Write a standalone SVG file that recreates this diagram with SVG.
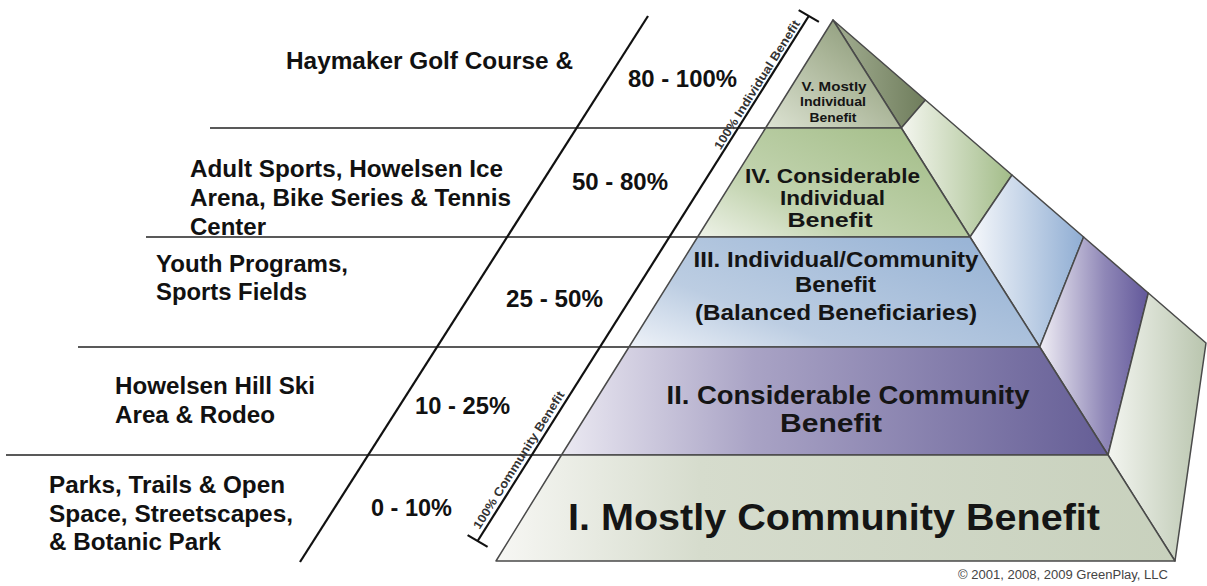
<svg xmlns="http://www.w3.org/2000/svg" width="1207" height="586" viewBox="0 0 1207 586">
<defs>
<style>
.lbl{font-family:"Liberation Sans",Arial,sans-serif;font-weight:bold;font-size:23px;fill:#111;}
.pct{font-family:"Liberation Sans",Arial,sans-serif;font-weight:bold;font-size:23px;fill:#111;}
.tier{font-family:"Liberation Sans",Arial,sans-serif;font-weight:bold;fill:#151515;text-anchor:middle;}
.brk{font-family:"Liberation Sans",Arial,sans-serif;font-weight:bold;font-size:12px;fill:#333;}
.hl{stroke:#222;stroke-width:1.6;fill:none;}
.dl{stroke:#111;stroke-width:2.2;fill:none;}
.face{stroke:#4a4a4a;stroke-width:1.5;stroke-linejoin:round;}
.copy{font-family:"Liberation Sans",Arial,sans-serif;font-size:12px;fill:#444;}
</style>
<linearGradient id="g5" x1="0" y1="1" x2="1" y2="0"><stop offset="0" stop-color="#dde3d3"/><stop offset="0.55" stop-color="#aab598"/><stop offset="1" stop-color="#7f8e6c"/></linearGradient>
<linearGradient id="g4" x1="0" y1="1" x2="1" y2="0.2"><stop offset="0" stop-color="#eef2e8"/><stop offset="0.35" stop-color="#c3d4b0"/><stop offset="1" stop-color="#a3bd88"/></linearGradient>
<linearGradient id="g3" x1="0" y1="1" x2="1" y2="0.3"><stop offset="0" stop-color="#eef2f8"/><stop offset="0.35" stop-color="#bccde2"/><stop offset="1" stop-color="#9ab5d6"/></linearGradient>
<linearGradient id="g2" x1="0" y1="0.5" x2="1" y2="0.5"><stop offset="0" stop-color="#ebe9f2"/><stop offset="0.35" stop-color="#a9a3c5"/><stop offset="1" stop-color="#655e96"/></linearGradient>
<linearGradient id="g1" x1="0" y1="0.5" x2="1" y2="0.5"><stop offset="0" stop-color="#f7f7f4"/><stop offset="0.3" stop-color="#d6dccd"/><stop offset="1" stop-color="#c8d1bd"/></linearGradient>
<linearGradient id="s5" x1="0" y1="0" x2="1" y2="0"><stop offset="0" stop-color="#a3ae92"/><stop offset="1" stop-color="#6f7d5c"/></linearGradient>
<linearGradient id="s4" x1="0" y1="0" x2="1" y2="0"><stop offset="0" stop-color="#f4f6ef"/><stop offset="1" stop-color="#a2bc88"/></linearGradient>
<linearGradient id="s3" x1="0" y1="0" x2="1" y2="0"><stop offset="0" stop-color="#f6f8fb"/><stop offset="1" stop-color="#8fadd3"/></linearGradient>
<linearGradient id="s2" x1="0" y1="0" x2="1" y2="0"><stop offset="0" stop-color="#f0eef5"/><stop offset="0.6" stop-color="#8f87b7"/><stop offset="1" stop-color="#62589a"/></linearGradient>
<linearGradient id="s1" x1="0" y1="0" x2="1" y2="0"><stop offset="0" stop-color="#f3f5f0"/><stop offset="1" stop-color="#b9c5ae"/></linearGradient>
</defs>
<rect width="1207" height="586" fill="#ffffff"/>
<g id="connectors">
<line class="hl" x1="210" y1="128" x2="901" y2="128"/>
<line class="hl" x1="146" y1="237" x2="970" y2="237"/>
<line class="hl" x1="78" y1="347" x2="1040" y2="347"/>
<line class="hl" x1="6" y1="455" x2="1108" y2="455"/>
<line class="dl" x1="648" y1="16" x2="300" y2="562"/>
<line class="dl" x1="808.8" y1="16" x2="477.6" y2="541"/>
<line class="dl" x1="798.7" y1="10.1" x2="818.9" y2="21.9"/>
<line class="dl" x1="467.6" y1="535.1" x2="487.6" y2="546.9"/>
</g>
<g id="pyramid-side">
<polygon class="face" fill="url(#s5)" points="833,20 925.4,100 901.3,128"/>
<polygon class="face" fill="url(#s4)" points="901.3,128 925.4,100 1012,175 970,237"/>
<polygon class="face" fill="url(#s3)" points="970,237 1012,175 1083.6,237 1039.7,347"/>
<polygon class="face" fill="url(#s2)" points="1039.7,347 1083.6,237 1148.3,293 1108,455"/>
<polygon class="face" fill="url(#s1)" points="1108,455 1148.3,293 1206,343 1175,561"/>
</g>
<g id="tier5">
<polygon class="face" fill="url(#g5)" points="833,20 901.3,128 765.6,128"/>
<text class="tier" font-size="13.5" x="834" y="91" textLength="65" lengthAdjust="spacingAndGlyphs">V. Mostly</text>
<text class="tier" font-size="13.5" x="833" y="106" textLength="66" lengthAdjust="spacingAndGlyphs">Individual</text>
<text class="tier" font-size="13.5" x="833" y="121.5" textLength="47" lengthAdjust="spacingAndGlyphs">Benefit</text>
</g>
<g id="tier4">
<polygon class="face" fill="url(#g4)" points="765.6,128 901.3,128 970,237 697.6,237"/>
<text class="tier" font-size="21" x="832.5" y="183" textLength="175" lengthAdjust="spacingAndGlyphs">IV. Considerable</text>
<text class="tier" font-size="21" x="832.5" y="205" textLength="105" lengthAdjust="spacingAndGlyphs">Individual</text>
<text class="tier" font-size="21" x="830" y="227" textLength="85" lengthAdjust="spacingAndGlyphs">Benefit</text>
</g>
<g id="tier3">
<polygon class="face" fill="url(#g3)" points="697.6,237 970,237 1039.7,347 629,347"/>
<text class="tier" font-size="22" x="836" y="267" textLength="285" lengthAdjust="spacingAndGlyphs">III. Individual/Community</text>
<text class="tier" font-size="22" x="835.5" y="292" textLength="81" lengthAdjust="spacingAndGlyphs">Benefit</text>
<text class="tier" font-size="22" x="836" y="320" textLength="282" lengthAdjust="spacingAndGlyphs">(Balanced Beneficiaries)</text>
</g>
<g id="tier2">
<polygon class="face" fill="url(#g2)" points="629,347 1039.7,347 1108,455 561.5,455"/>
<text class="tier" font-size="26" x="848" y="404" textLength="363" lengthAdjust="spacingAndGlyphs">II. Considerable Community</text>
<text class="tier" font-size="26" x="831" y="432" textLength="102" lengthAdjust="spacingAndGlyphs">Benefit</text>
</g>
<g id="tier1">
<polygon class="face" fill="url(#g1)" points="561.5,455 1108,455 1175,561 496,561"/>
<text class="tier" font-size="37" x="834" y="530" textLength="532" lengthAdjust="spacingAndGlyphs">I. Mostly Community Benefit</text>
</g>
<g id="bracket-labels">
<text class="brk" transform="translate(720.5,150.4) rotate(-57.8)" textLength="150" lengthAdjust="spacingAndGlyphs">100% Individual Benefit</text>
<text class="brk" transform="translate(479.5,530) rotate(-57.8)" textLength="160" lengthAdjust="spacingAndGlyphs">100% Community Benefit</text>
</g>
<g id="row5">
<text class="lbl" x="286" y="69" textLength="287" lengthAdjust="spacingAndGlyphs">Haymaker Golf Course &amp;</text>
<text class="pct" x="628" y="87" textLength="109" lengthAdjust="spacingAndGlyphs">80 - 100%</text>
</g>
<g id="row4">
<text class="lbl" x="190" y="177" textLength="313" lengthAdjust="spacingAndGlyphs">Adult Sports, Howelsen Ice</text>
<text class="lbl" x="190" y="205.5" textLength="321" lengthAdjust="spacingAndGlyphs">Arena, Bike Series &amp; Tennis</text>
<text class="lbl" x="190" y="234.5" textLength="76" lengthAdjust="spacingAndGlyphs">Center</text>
<text class="pct" x="572" y="189.5" textLength="96" lengthAdjust="spacingAndGlyphs">50 - 80%</text>
</g>
<g id="row3">
<text class="lbl" x="156" y="272" textLength="192" lengthAdjust="spacingAndGlyphs">Youth Programs,</text>
<text class="lbl" x="156" y="300" textLength="151" lengthAdjust="spacingAndGlyphs">Sports Fields</text>
<text class="pct" x="506" y="307" textLength="97" lengthAdjust="spacingAndGlyphs">25 - 50%</text>
</g>
<g id="row2">
<text class="lbl" x="115" y="393.5" textLength="200" lengthAdjust="spacingAndGlyphs">Howelsen Hill Ski</text>
<text class="lbl" x="115" y="422.5" textLength="160" lengthAdjust="spacingAndGlyphs">Area &amp; Rodeo</text>
<text class="pct" x="415" y="413.5" textLength="95" lengthAdjust="spacingAndGlyphs">10 - 25%</text>
</g>
<g id="row1">
<text class="lbl" x="49" y="493" textLength="236" lengthAdjust="spacingAndGlyphs">Parks, Trails &amp; Open</text>
<text class="lbl" x="49" y="521.5" textLength="244" lengthAdjust="spacingAndGlyphs">Space, Streetscapes,</text>
<text class="lbl" x="49" y="550" textLength="172" lengthAdjust="spacingAndGlyphs">&amp; Botanic Park</text>
<text class="pct" x="371" y="516" textLength="81" lengthAdjust="spacingAndGlyphs">0 - 10%</text>
</g>
<text class="copy" x="958" y="579" textLength="210" lengthAdjust="spacingAndGlyphs">© 2001, 2008, 2009 GreenPlay, LLC</text>
</svg>
